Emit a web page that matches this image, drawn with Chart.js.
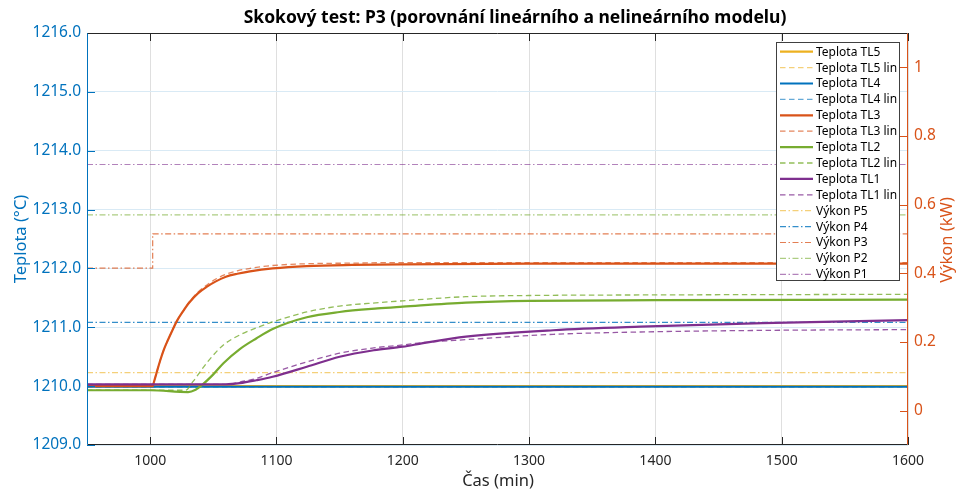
<!DOCTYPE html>
<html lang="cs">
<head>
<meta charset="utf-8">
<title>Skokový test P3</title>
<script src="https://cdn.jsdelivr.net/npm/chart.js@4.4.1/dist/chart.umd.min.js"></script>
<style>
  html, body { margin: 0; padding: 0; background: #fff; }
  #graf { display: block; }
</style>
</head>
<body>
<canvas id="graf" width="962" height="490"></canvas>
<script>

// ======================
// DATA
// ======================
const xTicks = [1000, 1100, 1200, 1300, 1400, 1500, 1600];
const teplotaTicks = [1209, 1210, 1211, 1212, 1213, 1214, 1215, 1216];
const vykonTicks = [0, 0.2, 0.4, 0.6, 0.8, 1];

// teploty (°C)
const casTL5 = [950, 1600];
const tl5 = [1210.00, 1210.00];
const tl5Lin = [1210.01, 1210.01];

const casTL4 = [950, 1600];
const tl4 = [1209.99, 1209.99];
const tl4Lin = [1209.99, 1209.99];

const casTL3 = [950, 1002, 1003, 1005, 1008, 1011, 1014, 1017, 1021, 1026, 1031, 1038, 1045, 1052, 1060, 1069, 1079, 1097, 1124, 1160, 1200, 1300, 1600];
const tl3 = [1210.00, 1210.00, 1210.07, 1210.22, 1210.44, 1210.63, 1210.78, 1210.92, 1211.10, 1211.27, 1211.42, 1211.58, 1211.69, 1211.78, 1211.86, 1211.91, 1211.95, 1212.00, 1212.04, 1212.06, 1212.07, 1212.08, 1212.08];
const tl3Lin = [1210.00, 1210.00, 1210.07, 1210.22, 1210.44, 1210.63, 1210.78, 1210.92, 1211.10, 1211.27, 1211.43, 1211.60, 1211.72, 1211.82, 1211.90, 1211.96, 1212.00, 1212.05, 1212.08, 1212.09, 1212.10, 1212.10, 1212.10];

const casTL2 = [950, 1000, 1030, 1036, 1040, 1050, 1058, 1071, 1084, 1097, 1124, 1150, 1180, 1200, 1250, 1300, 1400, 1600];
const tl2 = [1209.93, 1209.93, 1209.90, 1209.94, 1210.00, 1210.20, 1210.39, 1210.63, 1210.81, 1210.97, 1211.17, 1211.26, 1211.32, 1211.35, 1211.42, 1211.45, 1211.46, 1211.47];

const casTL2Lin = [950, 1028, 1034, 1045, 1058, 1071, 1084, 1097, 1124, 1150, 1182, 1200, 1250, 1300, 1400, 1600];
const tl2Lin = [1209.93, 1209.93, 1210.08, 1210.40, 1210.70, 1210.87, 1210.99, 1211.09, 1211.26, 1211.36, 1211.42, 1211.45, 1211.52, 1211.54, 1211.55, 1211.56];

const casTL1 = [950, 1060, 1071, 1084, 1097, 1124, 1150, 1177, 1200, 1216, 1250, 1319, 1388, 1485, 1600];
const tl1 = [1210.03, 1210.03, 1210.05, 1210.10, 1210.16, 1210.33, 1210.50, 1210.61, 1210.67, 1210.73, 1210.84, 1210.95, 1211.01, 1211.07, 1211.12];

const casTL1Lin = [950, 1062, 1071, 1084, 1097, 1124, 1150, 1177, 1200, 1216, 1250, 1319, 1388, 1500, 1600];
const tl1Lin = [1210.03, 1210.03, 1210.07, 1210.13, 1210.23, 1210.41, 1210.56, 1210.65, 1210.70, 1210.74, 1210.79, 1210.88, 1210.92, 1210.95, 1210.96];

// vykony (kW)
const casP = [950, 1600];
const p5 = [0.111, 0.111];
const p4 = [0.257, 0.257];
const p2 = [0.570, 0.570];
const p1 = [0.717, 0.717];

const casP3 = [950, 1002, 1002, 1600];
const p3 = [0.415, 0.415, 0.515, 0.515];


// ======================
// STYLY
// ======================
const FONT = '"Noto Sans", "Open Sans", sans-serif';
const C_TL5 = "#EDB120";
const C_TL4 = "#0072BD";
const C_TL3 = "#D95319";
const C_TL2 = "#77AC30";
const C_TL1 = "#7E2F8E";

const DASH = [5.5, 3.5];
const DASH_DOT = [6, 2.5, 1.5, 2.5];

function pts(cas, hodnoty) {
    return cas.map((t, i) => ({ x: t, y: hodnoty[i] }));
}

function teplota(label, cas, hodnoty, color, lin, poradi) {
    return {
        label: label,
        data: pts(cas, hodnoty),
        yAxisID: "y",
        borderColor: color,
        borderWidth: lin ? 1.3 : 2.2,
        borderDash: lin ? DASH : [],
        cubicInterpolationMode: "monotone",
        order: poradi
    };
}

function vykon(label, cas, hodnoty, color, poradi) {
    return {
        label: label,
        data: pts(cas, hodnoty),
        yAxisID: "y1",
        borderColor: color,
        borderWidth: 1.2,
        borderDash: DASH_DOT,
        tension: 0,
        order: poradi
    };
}


// ======================
// POPISKY + LEGENDA + RAMECEK
// ======================
const ramecekPlugin = {
    id: "ramecek",
    afterDatasetsDraw(chart) {
        const { ctx, chartArea: a, scales } = chart;
        ctx.save();
        ctx.lineWidth = 1;
        ctx.setLineDash([]);

        const line = (x1, y1, x2, y2) => {
            ctx.beginPath();
            ctx.moveTo(x1, y1);
            ctx.lineTo(x2, y2);
            ctx.stroke();
        };

        // ticky dovnitr
        ctx.strokeStyle = "#262626";
        xTicks.forEach(v => {
            const px = Math.round(scales.x.getPixelForValue(v)) + 0.5;
            line(px, a.bottom, px, a.bottom - 8);
            line(px, a.top, px, a.top + 8);
        });
        ctx.strokeStyle = C_TL4;
        teplotaTicks.forEach(v => {
            const py = Math.round(scales.y.getPixelForValue(v)) + 0.5;
            line(a.left, py, a.left + 8, py);
        });
        ctx.strokeStyle = C_TL3;
        vykonTicks.forEach(v => {
            const py = Math.round(scales.y1.getPixelForValue(v)) + 0.5;
            line(a.right, py, a.right - 8, py);
        });

        // osy
        const L = Math.round(a.left) + 0.5, R = Math.round(a.right) - 0.5;
        const T = Math.round(a.top) + 0.5, B = Math.round(a.bottom) - 0.5;
        ctx.strokeStyle = "#262626";
        line(L, T, R, T);
        line(L, B, R, B);
        ctx.strokeStyle = C_TL4;
        line(L, T, L, B);
        ctx.strokeStyle = C_TL3;
        line(R, T, R, B);
        ctx.restore();
    },
    afterDraw(chart) {
        const { ctx } = chart;
        ctx.save();

        // titulek
        ctx.fillStyle = "#000";
        ctx.font = "bold 17.5px " + FONT;
        ctx.textAlign = "center";
        ctx.textBaseline = "middle";
        ctx.fillText("Skokový test: P3 (porovnání lineárního a nelineárního modelu)", 515, 18);

        // popisky os
        ctx.font = "16.5px " + FONT;
        ctx.fillStyle = "#262626";
        ctx.fillText("Čas (min)", 498, 481);

        ctx.save();
        ctx.translate(21, 239);
        ctx.rotate(-Math.PI / 2);
        ctx.fillStyle = C_TL4;
        ctx.fillText("Teplota (°C)", 0, 0);
        ctx.restore();

        ctx.save();
        ctx.translate(947, 240);
        ctx.rotate(-Math.PI / 2);
        ctx.fillStyle = C_TL3;
        ctx.fillText("Výkon (kW)", 0, 0);
        ctx.restore();

        // legenda
        const bx = 776.5, by = 42.5, bw = 123, bh = 238;
        ctx.fillStyle = "#fff";
        ctx.fillRect(bx, by, bw, bh);
        ctx.strokeStyle = "#404040";
        ctx.lineWidth = 1;
        ctx.strokeRect(bx, by, bw, bh);

        ctx.font = "12px " + FONT;
        ctx.textAlign = "left";
        ctx.textBaseline = "middle";
        chart.data.datasets.forEach((ds, i) => {
            const y = 51.7 + i * 15.9;
            ctx.strokeStyle = ds.borderColor;
            ctx.lineWidth = ds.borderWidth;
            ctx.setLineDash(ds.borderDash || []);
            ctx.beginPath();
            ctx.moveTo(780, y);
            ctx.lineTo(813, y);
            ctx.stroke();
            ctx.fillStyle = "#000";
            ctx.fillText(ds.label, 816, y + 0.5);
        });
        ctx.restore();
    }
};


// ======================
// GRAF
// ======================
document.addEventListener("DOMContentLoaded", () => {

    const datasets = [
        teplota("Teplota TL5", casTL5, tl5, C_TL5, false, 30),
        teplota("Teplota TL5 lin", casTL5, tl5Lin, "rgba(237,177,32,0.6)", true, 29),
        teplota("Teplota TL4", casTL4, tl4, C_TL4, false, 28),
        teplota("Teplota TL4 lin", casTL4, tl4Lin, "rgba(0,114,189,0.6)", true, 27),
        teplota("Teplota TL3", casTL3, tl3, C_TL3, false, 26),
        teplota("Teplota TL3 lin", casTL3, tl3Lin, "rgba(217,83,25,0.7)", true, 25),
        teplota("Teplota TL2", casTL2, tl2, C_TL2, false, 24),
        teplota("Teplota TL2 lin", casTL2Lin, tl2Lin, "rgba(119,172,48,0.8)", true, 23),
        teplota("Teplota TL1", casTL1, tl1, C_TL1, false, 22),
        teplota("Teplota TL1 lin", casTL1Lin, tl1Lin, "rgba(126,47,142,0.8)", true, 21),
        vykon("Výkon P5", casP, p5, "rgba(237,177,32,0.6)", 45),
        vykon("Výkon P4", casP, p4, "rgba(0,114,189,0.8)", 44),
        vykon("Výkon P3", casP3, p3, "rgba(217,83,25,0.75)", 43),
        vykon("Výkon P2", casP, p2, "rgba(119,172,48,0.6)", 42),
        vykon("Výkon P1", casP, p1, "rgba(126,47,142,0.6)", 41)
    ];

    new Chart(document.getElementById("graf"), {
        type: "line",
        data: { datasets: datasets },
        options: {
            responsive: false,
            animation: false,
            layout: { padding: { top: 33, left: 0, right: 0, bottom: 0 } },
            elements: { point: { radius: 0 } },
            plugins: {
                legend: { display: false },
                title: { display: false },
                tooltip: { enabled: false }
            },
            scales: {
                x: {
                    type: "linear",
                    min: 950,
                    max: 1600,
                    afterBuildTicks: s => { s.ticks = xTicks.map(v => ({ value: v })); },
                    afterFit: s => { s.height = 45; },
                    grid: { color: "#dfdfdf", drawTicks: false },
                    border: { display: false },
                    ticks: {
                        padding: 8,
                        color: "#262626",
                        maxRotation: 0,
                        autoSkip: false,
                        font: { family: FONT, size: 14 },
                        callback: v => String(v)
                    }
                },
                y: {
                    position: "left",
                    min: 1209,
                    max: 1216,
                    afterBuildTicks: s => { s.ticks = teplotaTicks.map(v => ({ value: v })); },
                    afterFit: s => { s.width = 87; },
                    grid: { color: "#d9eaf5", drawTicks: false },
                    border: { display: false },
                    ticks: {
                        padding: 6,
                        color: C_TL4,
                        font: { family: FONT, size: 15.5 },
                        callback: v => v.toFixed(1)
                    }
                },
                y1: {
                    position: "right",
                    min: -0.1,
                    max: 1.1,
                    afterBuildTicks: s => { s.ticks = vykonTicks.map(v => ({ value: v })); },
                    afterFit: s => { s.width = 54; },
                    grid: { display: false, drawTicks: false },
                    border: { display: false },
                    ticks: {
                        padding: 6,
                        color: C_TL3,
                        font: { family: FONT, size: 15.5 },
                        callback: v => String(Math.round(v * 10) / 10)
                    }
                }
            }
        },
        plugins: [ramecekPlugin]
    });
});

</script>
</body>
</html>
